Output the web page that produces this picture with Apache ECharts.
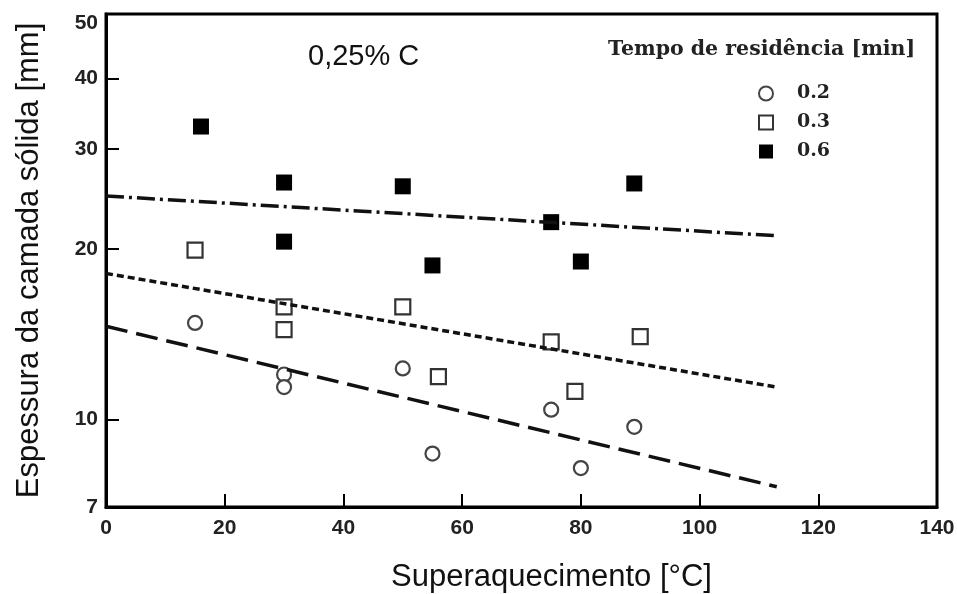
<!DOCTYPE html>
<html><head><meta charset="utf-8">
<script src="https://cdn.jsdelivr.net/npm/echarts@6/dist/echarts.min.js"></script>
<style>html,body{margin:0;padding:0;background:#fff}#c{width:957px;height:594px}</style>
</head><body><div id="c"></div>
<script>
// ---- data ----
const xTicks = [0, 20, 40, 60, 80, 100, 120, 140];
const yTicks = [7, 10, 20, 30, 40, 50];
const seriesNames = ['0.2', '0.3', '0.6'];
const x02 = [15, 30, 30, 50, 55, 75, 80, 89];
const y02 = [14.8, 12.0, 11.4, 12.3, 8.7, 10.4, 8.2, 9.7];
const x03 = [15, 30, 30, 50, 56, 75, 79, 90];
const y03 = [19.9, 15.8, 14.4, 15.8, 11.9, 13.7, 11.2, 14.0];
const x06 = [16, 30, 30, 50, 55, 75, 80, 89];
const y06 = [32.9, 26.2, 20.6, 25.8, 18.7, 22.3, 19.0, 26.1];
const fitX = [0, 113];
const fit02 = [14.6, 7.6];
const fit03 = [18.1, 11.4];
const fit06 = [24.8, 21.1];

const zip = (a, b) => a.map((v, i) => [v, b[i]]);
const tickFont = { fontFamily: '"Liberation Sans", Arial, sans-serif', fontWeight: 'bold', fontSize: 21, color: '#222' };
const serifBold = { fontFamily: '"DejaVu Serif", serif', fontWeight: 'bold', color: '#222' };
const sans = '"Liberation Sans", Arial, sans-serif';

const chart = echarts.init(document.getElementById('c'), null, { renderer: 'canvas' });
chart.setOption({
  animation: false,
  backgroundColor: '#fff',
  title: [
    { text: '0,25% C', left: 303, top: 37, textStyle: { fontFamily: sans, fontWeight: 'normal', fontSize: 29, color: '#111' } },
    { text: 'Tempo de residência [min]', left: 603, top: 34, textStyle: Object.assign({ fontSize: 20.5 }, serifBold) }
  ],
  legend: {
    data: seriesNames,
    orient: 'vertical',
    left: 753, top: 79,
    itemWidth: 14, itemHeight: 14, itemGap: 10,
    textStyle: Object.assign({ fontSize: 19, padding: [0, 0, 0, 19] }, serifBold)
  },
  grid: { left: 106, right: 20, top: 14, bottom: 87, outerBoundsMode: 'none', containLabel: false, show: true, borderColor: '#000', borderWidth: 3, backgroundColor: 'transparent' },
  xAxis: {
    type: 'value', min: xTicks[0], max: xTicks[xTicks.length - 1], interval: 20,
    name: 'Superaquecimento [°C]', nameLocation: 'middle', nameGap: 55,
    nameTextStyle: { fontFamily: sans, fontSize: 31, color: '#111', padding: [0, 0, 0, 60] },
    axisLine: { lineStyle: { color: '#000', width: 3 } },
    axisTick: { inside: true, length: 13, lineStyle: { color: '#000', width: 2 }, customValues: xTicks.slice(1, -1) },
    axisLabel: Object.assign({ margin: 11, customValues: xTicks }, tickFont),
    splitLine: { show: false }
  },
  yAxis: {
    type: 'log', logBase: 10, min: 7, max: 52,
    name: 'Espessura da camada sólida [mm]', nameLocation: 'middle', nameGap: 61, nameRotate: 90,
    nameTextStyle: { fontFamily: sans, fontSize: 31, color: '#111' },
    axisLine: { lineStyle: { color: '#000', width: 3 } },
    axisTick: { inside: true, length: 13, lineStyle: { color: '#000', width: 2 }, customValues: yTicks.slice(1, -1) },
    axisLabel: Object.assign({ margin: 8, customValues: yTicks }, tickFont),
    splitLine: { show: false }, minorTick: { show: false }
  },
  series: [
    { name: 'fit02', type: 'line', data: zip(fitX, fit02), showSymbol: false, silent: true, lineStyle: { color: '#111', width: 3.5, type: [22, 9] } },
    { name: 'fit03', type: 'line', data: zip(fitX, fit03), showSymbol: false, silent: true, lineStyle: { color: '#111', width: 3.5, type: [7, 4] } },
    { name: 'fit06', type: 'line', data: zip(fitX, fit06), showSymbol: false, silent: true, lineStyle: { color: '#111', width: 3.5, type: [18, 5, 3, 5] } },
    { name: seriesNames[0], type: 'scatter', data: zip(x02, y02), symbol: 'circle', symbolSize: 14, itemStyle: { color: '#fff', borderColor: '#444', borderWidth: 2.2, opacity: 1 } },
    { name: seriesNames[1], type: 'scatter', data: zip(x03, y03), symbol: 'rect', symbolSize: 15, itemStyle: { color: '#fff', borderColor: '#333', borderWidth: 2.2, opacity: 1 } },
    { name: seriesNames[2], type: 'scatter', data: zip(x06, y06), symbol: 'rect', symbolSize: 16, itemStyle: { color: '#000', opacity: 1 } }
  ]
});
</script></body></html>
